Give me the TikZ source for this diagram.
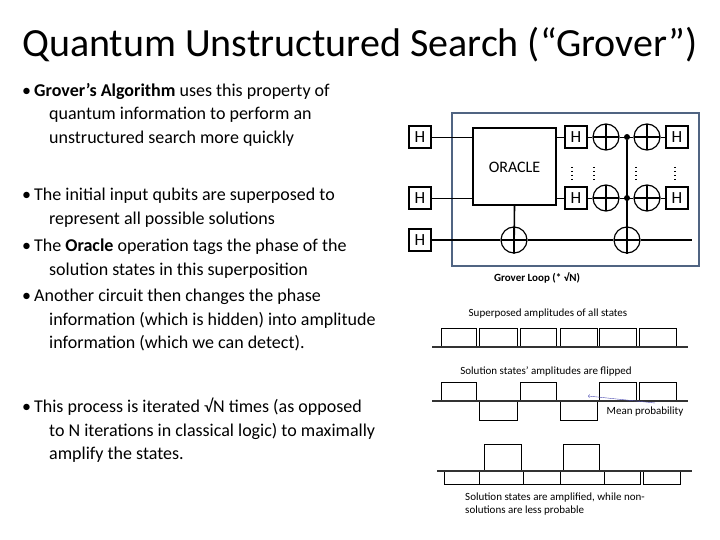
\documentclass[tikz,border=0pt]{standalone}
\usepackage{fontspec}
\setmainfont{Carlito}
\begin{document}
\begin{tikzpicture}
[
x=1pt, y=-1pt,
every node/.style={inner sep=0pt},
Hgate/.style={rectangle,draw=black,line width=1.6pt,minimum size=22pt,font=\fontsize{17}{17}\selectfont},
Oplus/.style={circle,draw=black,line width=1.2pt,minimum size=26pt,
  path picture={\draw[line width=1.2pt] (path picture bounding box.north)--(path picture bounding box.south)
  (path picture bounding box.west)--(path picture bounding box.east);}},
Ctrl/.style={circle,fill=black,minimum size=6pt},
Wire/.style={draw=black,thin},
Thickwire/.style={draw=black,line width=1.6pt},
Frame/.style={draw=frameblue,line width=2.2pt},
Bullet/.style={anchor=north west,align=left,font=\fontsize{18}{23.5}\selectfont},
Caption/.style={font=\fontsize{11}{13}\selectfont},
Bar/.style={draw=black,thin},
Base/.style={draw=black!80,line width=1.4pt},
]
\definecolor{frameblue}{RGB}{80,100,130}
\useasboundingbox (0,0) rectangle (720,540);

% title
\node (title) at (360,45) {\fontsize{40}{44}\selectfont Quantum Unstructured Search (“Grover”)};

% bullets
\node[Bullet] (b1) at (22,83) {\textbullet\hspace{3pt}\textbf{Grover’s Algorithm} uses this property of\\
\hspace{27pt}quantum information to perform an\\ \hspace{27pt}unstructured search more quickly};
\node[Bullet] (b2) at (22,188) {\textbullet\hspace{3pt}The initial input qubits are superposed to\\
\hspace{27pt}represent all possible solutions};
\node[Bullet] (b3) at (22,239) {\textbullet\hspace{3pt}The \textbf{Oracle} operation tags the phase of the\\
\hspace{27pt}solution states in this superposition};
\node[Bullet] (b4) at (22,289) {\textbullet\hspace{3pt}Another circuit then changes the phase\\
\hspace{27pt}information (which is hidden) into amplitude\\
\hspace{27pt}information (which we can detect).};
\node[Bullet] (b5) at (22,398) {\textbullet\hspace{3pt}This process is iterated √N times (as opposed\\
\hspace{27pt}to N iterations in classical logic) to maximally\\ \hspace{27pt}amplify the states.};

% circuit
\draw[Frame] (452,113) rectangle (699,266);
\node[Hgate] (h1) at (420,137) {H};
\node[Hgate] (h2) at (420,198) {H};
\node[Hgate] (h3) at (420,240) {H};
\node[draw=black,line width=1.6pt,minimum width=83pt,minimum height=77pt] (oracle) at (514.5,166.5) {};
\node[font=\fontsize{16}{16}\selectfont] (orlabel) at (514.5,167) {ORACLE};
\node[Hgate] (r1) at (576,137) {H};
\node[Hgate] (r2) at (576,198) {H};
\node[Oplus] (x1) at (606,137) {};
\node[Oplus] (x2) at (606,198) {};
\node[Ctrl] (c1) at (627,137) {};
\node[Ctrl] (c2) at (627,198) {};
\node[Oplus] (y1) at (647,137) {};
\node[Oplus] (y2) at (647,198) {};
\node[Hgate] (s1) at (677,137) {H};
\node[Hgate] (s2) at (677,198) {H};
\node[Oplus] (a1) at (514,240) {};
\node[Oplus] (a2) at (627,240) {};
\coordinate (wend) at (692,240);
\draw[Wire] (h1) -- (h1 -| oracle.west) (h2) -- (h2 -| oracle.west);
\draw[Wire] (r1 -| oracle.east) -- (r1) -- (x1) -- (y1) -- (s1);
\draw[Wire] (r2 -| oracle.east) -- (r2) -- (x2) -- (y2) -- (s2);
\draw[Thickwire] (h3) -- (a1) -- (a2) -- (wend);
\draw[Thickwire] (oracle.south) -- (a1.south);
\draw[Thickwire] (c1) -- (a2.south);
\foreach \dx in {572,594,636,675}
  \draw[line width=1.5pt,dash pattern=on 1.5pt off 2.5pt] (\dx,167) -- (\dx,181);
\node[font=\bfseries\fontsize{11}{12}\selectfont] (loop) at (537,278) {Grover Loop (* √N)};

% amplitude charts
\node[Caption] (t1) at (548,314) {Superposed amplitudes of all states};
\foreach \l/\r in {441/476,479/517,520/556,560/597,599/636,639/676}
  \draw[Bar] (\l,347) -- (\l,328) -- (\r,328) -- (\r,347);
\draw[Base] (432,347) -- (688,347);

\node[Caption] (t2) at (546,372) {Solution states’ amplitudes are flipped};
\foreach \l/\r in {441/476,520/556,599/636,639/676}
  \draw[Bar] (\l,401) -- (\l,382) -- (\r,382) -- (\r,401);
\foreach \l/\r in {479/517,560/597}
  \draw[Bar] (\l,401) -- (\l,420) -- (\r,420) -- (\r,401);
\draw[Base] (432,401) -- (688,401);
\node[Caption] (mean) at (645,412) {Mean probability};
\coordinate (mtail) at (655,403);
\coordinate (mhead) at (588,396);
\draw[->,draw=blue!40!gray,thin] (mtail) -- (mhead);

\foreach \l/\r in {484/521,563/599}
  \draw[Bar] (\l,471) -- (\l,444) -- (\r,444) -- (\r,471);
\foreach \l/\r in {444/479,479/523,523/560,560/604,604/640,643/680}
  \draw[Bar] (\l,471) -- (\l,484) -- (\r,484) -- (\r,471);
\draw[Base] (437,471) -- (692,471);
\node[Caption,anchor=west,align=left] (t3) at (465,504) {Solution states are amplified, while non-\\solutions are less probable};
\end{tikzpicture}
\end{document}
